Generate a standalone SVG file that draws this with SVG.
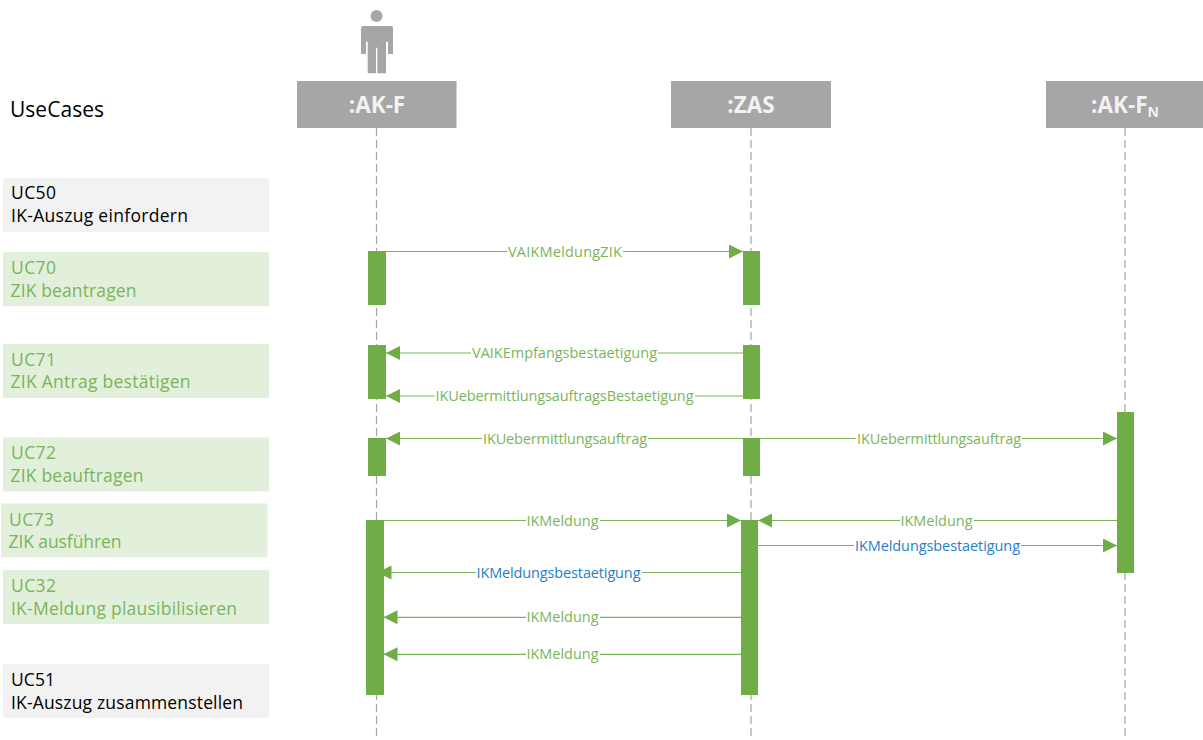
<svg xmlns="http://www.w3.org/2000/svg" width="1203" height="740" viewBox="0 0 1203 740">
<defs>
<marker id="arrow" markerUnits="userSpaceOnUse" markerWidth="14" markerHeight="14" refX="14" refY="7" orient="auto-start-reverse"><path d="M0 0L14 7L0 14Z" fill="#70ad47"/></marker>
</defs>
<style>
text{font-family:"Open Sans","Noto Sans","Liberation Sans",sans-serif}
.uc{font-size:17.5px}
.g{fill:#7ab55a}.k{fill:#000}.b{fill:#1f7fcc}
.bg{fill:#e2efda}.bk{fill:#f2f2f2}
.head{fill:#a6a6a6}
.ht{fill:#f2f2f2;font-size:22.500px;font-weight:700;text-anchor:middle}
.life{stroke:#a6a6a6;stroke-width:1.2;stroke-dasharray:8 4;fill:none}
.msg{stroke:#7ab55a;stroke-width:1.2;fill:none;marker-end:url(#arrow)}
.act{fill:#70ad47}
.ml{font-size:14.5px;text-anchor:middle}
.lb{fill:#fff}
</style>
<g id="title"><text x="10" y="117" font-size="21" fill="#000" textLength="94">UseCases</text></g>

<g id="lifelines">
<path class="life" d="M376.5 128V740"/>
<path class="life" d="M751 128V740"/>
<path class="life" d="M1125 128V740"/>
</g>

<g id="actor"><circle cx="376.5" cy="16" r="6" fill="#a6a6a6"/>
<path d="M363 26H391Q393 26 393 28V54H388V41.700H386V73.300H377.300V47.700H376V73.300H367.700V41.700H366V54H361V28Q361 26 363 26Z" fill="#a6a6a6"/></g>

<g id="node-akf"><rect class="head" x="297" y="81" width="159.500" height="47"/><text class="ht" x="377" y="113">:AK-F</text></g>
<g id="node-zas"><rect class="head" x="671" y="81" width="160" height="47"/><text class="ht" x="751" y="113">:ZAS</text></g>
<g id="node-akfn"><rect class="head" x="1046" y="81" width="160" height="47"/><text class="ht" x="1125" y="113">:AK-F<tspan font-size="14" dy="4">N</tspan></text></g>

<g id="uc50"><rect class="bk" x="3" y="178" width="266" height="54"/><text class="uc k" x="11" y="198.500" textLength="45">UC50</text><text class="uc k" x="11" y="222" textLength="177">IK-Auszug einfordern</text></g>
<g id="uc70"><rect class="bg" x="3" y="252" width="266" height="54"/><text class="uc g" x="11" y="273.500" textLength="45">UC70</text><text class="uc g" x="10.500" y="296.500" textLength="126">ZIK beantragen</text></g>
<g id="uc71"><rect class="bg" x="3" y="344" width="266" height="54"/><text class="uc g" x="11" y="365.500" textLength="45">UC71</text><text class="uc g" x="10.500" y="388" textLength="180">ZIK Antrag bestätigen</text></g>
<g id="uc72"><rect class="bg" x="3" y="437.500" width="266" height="54"/><text class="uc g" x="11" y="458.500" textLength="45">UC72</text><text class="uc g" x="10.500" y="482" textLength="133">ZIK beauftragen</text></g>
<g id="uc73"><rect class="bg" x="1" y="503.500" width="266.500" height="54"/><text class="uc g" x="9" y="525.500" textLength="45">UC73</text><text class="uc g" x="8.500" y="548" textLength="113">ZIK ausführen</text></g>
<g id="uc32"><rect class="bg" x="3" y="570" width="266" height="54"/><text class="uc g" x="11" y="591.500" textLength="45">UC32</text><text class="uc g" x="11" y="614.500" textLength="226">IK-Meldung plausibilisieren</text></g>
<g id="uc51"><rect class="bk" x="3" y="664" width="266" height="54"/><text class="uc k" x="11" y="685.500" textLength="44">UC51</text><text class="uc k" x="11" y="708.500" textLength="232">IK-Auszug zusammenstellen</text></g>

<g id="connectors">
<path class="msg" d="M386 251.500H743"/>
<path class="msg" d="M743 353H386"/>
<path class="msg" d="M743 396H386"/>
<path class="msg" d="M743 438.500H386"/>
<path class="msg" d="M760 438.500H1117"/>
<path class="msg" d="M383.500 520.500H741"/>
<path class="msg" d="M1117 520.500H758"/>
<path class="msg" d="M758 545.500H1117"/>
<path class="msg" d="M741 572.500H377.500"/>
<path class="msg" d="M741 617.300H383.500"/>
<path class="msg" d="M741 654.300H383.500"/>
</g>

<g id="activations">
<rect class="act" x="368" y="251" width="18" height="54"/>
<rect class="act" x="743" y="251" width="17" height="54"/>
<rect class="act" x="368" y="345" width="18" height="54"/>
<rect class="act" x="743" y="345" width="17" height="54"/>
<rect class="act" x="368" y="438" width="18" height="38"/>
<rect class="act" x="743" y="438" width="17" height="38"/>
<rect class="act" x="366" y="520" width="18" height="175"/>
<rect class="act" x="741" y="520" width="17" height="175"/>
<rect class="act" x="1117" y="412" width="17" height="161"/>
</g>

<g id="labels">
<rect class="lb" x="507" y="243" width="116" height="18"/><text class="ml g" x="565" y="257" textLength="114">VAIKMeldungZIK</text>
<rect class="lb" x="471" y="344" width="187" height="18"/><text class="ml g" x="564.500" y="358" textLength="185">VAIKEmpfangsbestaetigung</text>
<rect class="lb" x="435" y="387" width="260" height="18"/><text class="ml g" x="564.500" y="401" textLength="258">IKUebermittlungsauftragsBestaetigung</text>
<rect class="lb" x="482" y="430" width="166" height="18"/><text class="ml g" x="565" y="444" textLength="164">IKUebermittlungsauftrag</text>
<rect class="lb" x="856" y="430" width="166" height="18"/><text class="ml g" x="939" y="444" textLength="164">IKUebermittlungsauftrag</text>
<rect class="lb" x="526" y="512" width="74" height="18"/><text class="ml g" x="562.500" y="526" textLength="72">IKMeldung</text>
<rect class="lb" x="900" y="512" width="74" height="18"/><text class="ml g" x="936.500" y="526" textLength="72">IKMeldung</text>
<rect class="lb" x="854" y="537" width="167" height="18"/><text class="ml b" x="937.500" y="551" textLength="165">IKMeldungsbestaetigung</text>
<rect class="lb" x="476" y="564" width="166" height="18"/><text class="ml b" x="558.500" y="578" textLength="164">IKMeldungsbestaetigung</text>
<rect class="lb" x="526" y="608" width="74" height="18"/><text class="ml g" x="562.500" y="622" textLength="72">IKMeldung</text>
<rect class="lb" x="526" y="645" width="74" height="18"/><text class="ml g" x="562.500" y="659" textLength="72">IKMeldung</text>
</g>
</svg>
